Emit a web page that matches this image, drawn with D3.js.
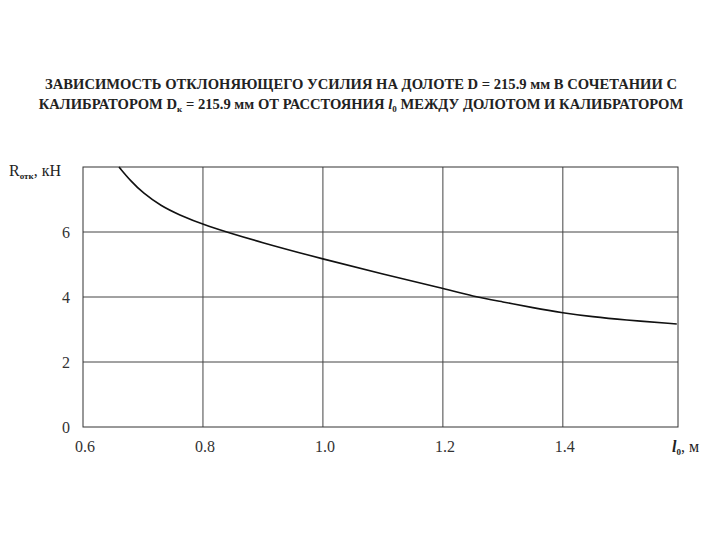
<!DOCTYPE html>
<html><head><meta charset="utf-8">
<script src="https://cdn.jsdelivr.net/npm/d3@7"></script>
<style>body{margin:0;background:#fff}svg text{font-family:"Liberation Serif","Times New Roman",serif}</style>
</head><body>
<svg id="c" width="720" height="540"></svg>
<script>
const xValues = [0.66, 0.68, 0.70, 0.73, 0.76, 0.8, 0.9, 1.0, 1.1, 1.2, 1.25, 1.3, 1.35, 1.4, 1.45, 1.5, 1.59];
const yValues = [8.0, 7.56, 7.2, 6.8, 6.53, 6.22, 5.66, 5.17, 4.7, 4.27, 4.02, 3.85, 3.67, 3.51, 3.39, 3.3, 3.17];
const xTicks = [0.6, 0.8, 1.0, 1.2, 1.4];
const yTicks = [0, 2, 4, 6];

const svg = d3.select("#c");
const x = d3.scaleLinear().domain([0.6, 1.592]).range([83, 678]);
const y = d3.scaleLinear().domain([0, 8]).range([427, 167]);

// title
const t = svg.append("g").attr("font-weight", "bold").attr("font-size", 14.6).attr("fill", "#222").attr("text-anchor", "middle");
const t1 = t.append("text").attr("x", 361).attr("y", 89);
t1.text("ЗАВИСИМОСТЬ ОТКЛОНЯЮЩЕГО УСИЛИЯ НА ДОЛОТЕ D = 215.9 мм В СОЧЕТАНИИ С");
const t2 = t.append("text").attr("x", 361).attr("y", 109);
t2.append("tspan").text("КАЛИБРАТОРОМ  D");
t2.append("tspan").attr("font-size", 9).attr("dy", 3).text("к");
t2.append("tspan").attr("dy", -3).text(" = 215.9 мм ОТ РАССТОЯНИЯ ");
t2.append("tspan").attr("font-style", "italic").text("l");
t2.append("tspan").attr("font-size", 9).attr("dy", 3).text("0");
t2.append("tspan").attr("dy", -3).text(" МЕЖДУ ДОЛОТОМ И КАЛИБРАТОРОМ");

// grid
const g = svg.append("g");
g.selectAll(".vx").data(xTicks.slice(1)).join("line")
  .attr("x1", d => x(d)).attr("x2", d => x(d)).attr("y1", y(8)).attr("y2", y(0))
  .attr("stroke", "#444").attr("stroke-width", 1);
g.selectAll(".hy").data(yTicks.slice(1)).join("line")
  .attr("x1", x(0.6)).attr("x2", x(1.592)).attr("y1", d => y(d)).attr("y2", d => y(d))
  .attr("stroke", "#444").attr("stroke-width", 1);
g.append("rect").attr("x", x(0.6)).attr("y", y(8)).attr("width", x(1.592) - x(0.6)).attr("height", y(0) - y(8))
  .attr("fill", "none").attr("stroke", "#333").attr("stroke-width", 1);

// axes labels
svg.append("g").selectAll("text").data(yTicks).join("text")
  .attr("x", 70).attr("y", d => y(d) + 6).attr("text-anchor", "end")
  .attr("font-size", 16).attr("fill", "#333").text(d => d);
svg.append("g").selectAll("text").data(xTicks).join("text")
  .attr("x", d => x(d) + 2).attr("y", 452).attr("text-anchor", "middle")
  .attr("font-size", 16).attr("fill", "#333").text(d => d.toFixed(1));

const yl = svg.append("text").attr("x", 9).attr("y", 176).attr("font-size", 16).attr("fill", "#222");
yl.append("tspan").text("R");
yl.append("tspan").attr("font-size", 9).attr("dy", 3).attr("font-weight", "bold").text("отк");
yl.append("tspan").attr("dy", -3).text(", кН");

const xl = svg.append("text").attr("x", 672).attr("y", 452).attr("font-size", 16).attr("fill", "#222");
xl.append("tspan").attr("font-style", "italic").attr("font-weight", "bold").text("l");
xl.append("tspan").attr("font-size", 9).attr("dy", 3).attr("font-weight", "bold").text("0");
xl.append("tspan").attr("dy", -3).text(", м");

// curve
const data = xValues.map((v, i) => [v, yValues[i]]);
svg.append("path").datum(data)
  .attr("d", d3.line().x(d => x(d[0])).y(d => y(d[1])).curve(d3.curveBasis))
  .attr("fill", "none").attr("stroke", "#111").attr("stroke-width", 1.6);
</script>
</body></html>
